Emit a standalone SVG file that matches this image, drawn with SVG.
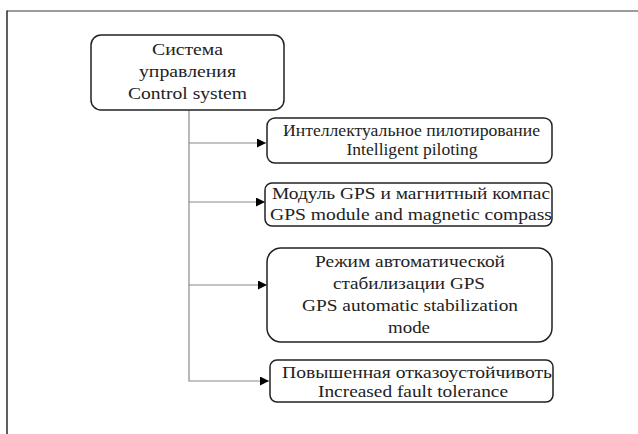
<svg xmlns="http://www.w3.org/2000/svg" width="638" height="434" viewBox="0 0 638 434">
  <defs>
    <marker id="arrow" viewBox="0 0 10 10" refX="10" refY="5" markerWidth="11" markerHeight="9" markerUnits="userSpaceOnUse" orient="auto">
      <path d="M0,0 L10,5 L0,10 Z" fill="#000"/>
    </marker>
    <style>
      .box { fill: #fff; stroke: #222; stroke-width: 1.5; }
      .lbl { font-family: "Liberation Serif", "Times New Roman", serif; font-size: 17px; fill: #222; text-anchor: middle; }
      .conn { fill: none; stroke: #8a8a8a; stroke-width: 1.2; }
    </style>
  </defs>
  <rect width="638" height="434" fill="#fff"/>

  <!-- page frame -->
  <line x1="7" y1="11" x2="638" y2="11" stroke="#7a7a7a" stroke-width="1.5"/>
  <line x1="7" y1="10.5" x2="7" y2="434" stroke="#2a2a2a" stroke-width="1.5"/>

  <!-- connectors -->
  <g id="connectors">
    <polyline class="conn" points="189,110 189,381 269,381" marker-end="url(#arrow)"/>
    <line class="conn" x1="189" y1="143" x2="266" y2="143" marker-end="url(#arrow)"/>
    <line class="conn" x1="189" y1="202" x2="265" y2="202" marker-end="url(#arrow)"/>
    <line class="conn" x1="189" y1="285" x2="267" y2="285" marker-end="url(#arrow)"/>
  </g>

  <g id="control-system">
    <rect class="box" x="91" y="35" width="193" height="75" rx="10"/>
    <text class="lbl" x="187.5" y="55" textLength="71" lengthAdjust="spacingAndGlyphs">Система</text>
    <text class="lbl" x="187.5" y="77" textLength="97" lengthAdjust="spacingAndGlyphs">управления</text>
    <text class="lbl" x="187.5" y="99" textLength="119" lengthAdjust="spacingAndGlyphs">Control system</text>
  </g>

  <g id="intelligent-piloting">
    <rect class="box" x="267" y="118" width="285" height="45" rx="8"/>
    <text class="lbl" x="411.5" y="136" textLength="257" lengthAdjust="spacingAndGlyphs">Интеллектуальное пилотирование</text>
    <text class="lbl" x="412" y="155" textLength="131" lengthAdjust="spacingAndGlyphs">Intelligent piloting</text>
  </g>

  <g id="gps-compass">
    <rect class="box" x="265" y="183" width="287" height="43" rx="7"/>
    <text class="lbl" x="411" y="199" textLength="278" lengthAdjust="spacingAndGlyphs">Модуль GPS и магнитный компас</text>
    <text class="lbl" x="411" y="220" textLength="282" lengthAdjust="spacingAndGlyphs">GPS module and magnetic compass</text>
  </g>

  <g id="gps-stabilization">
    <rect class="box" x="267" y="248" width="285" height="94" rx="14"/>
    <text class="lbl" x="410" y="267" textLength="190" lengthAdjust="spacingAndGlyphs">Режим автоматической</text>
    <text class="lbl" x="409" y="289" textLength="152" lengthAdjust="spacingAndGlyphs">стабилизации GPS</text>
    <text class="lbl" x="410" y="311" textLength="216" lengthAdjust="spacingAndGlyphs">GPS automatic stabilization</text>
    <text class="lbl" x="409" y="333" textLength="42" lengthAdjust="spacingAndGlyphs">mode</text>
  </g>

  <g id="fault-tolerance">
    <rect class="box" x="270" y="360" width="283" height="42" rx="7"/>
    <text class="lbl" x="417" y="378" textLength="270" lengthAdjust="spacingAndGlyphs">Повышенная отказоустойчивоть</text>
    <text class="lbl" x="413" y="397" textLength="190" lengthAdjust="spacingAndGlyphs">Increased fault tolerance</text>
  </g>
</svg>
